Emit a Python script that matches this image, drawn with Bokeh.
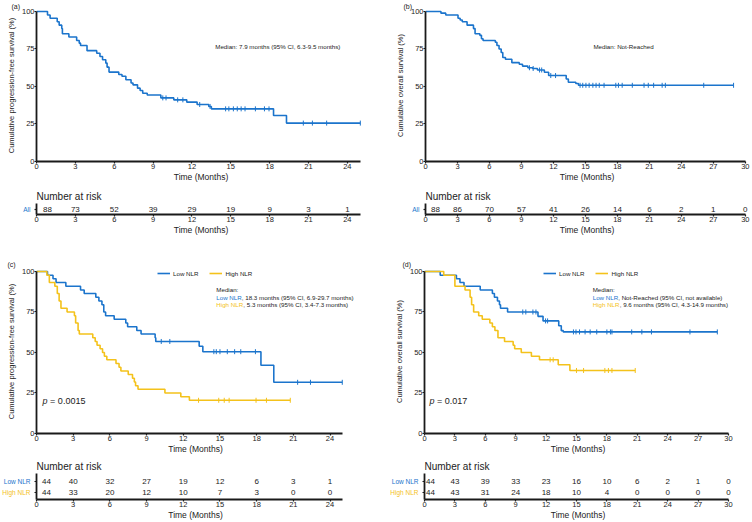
import numpy as np
from bokeh.plotting import figure
from bokeh.layouts import column, row
from bokeh.models import (ColumnDataSource, Label, Legend, LegendItem, Title,
                          FixedTicker, Range1d)
from bokeh.core.properties import value
from bokeh.embed import file_html
from bokeh.resources import INLINE

FONT = "Liberation Sans"
BLUE = "#1B74CC"
YELLOW = "#F4C21B"
AXIS = "#1a1a1a"
TXT = "#222222"

# ---------------- data (months, % surviving) ----------------
# (a) PFS, all patients
a_time = [0, 0.85, 1.05, 1.6, 1.75, 1.95, 2.0, 2.5, 3.1, 3.3, 3.4, 3.9, 4.65, 4.9, 5.1, 5.35, 5.45,
          5.6, 6.35, 6.6, 6.9, 7.3, 7.45, 7.8, 8.0, 8.2, 8.55, 9.6, 10.6, 11.6, 12.4, 13.3, 13.5,
          18.3, 19.3, 25.0]
a_surv = [100, 97.7, 95.5, 93.2, 90.9, 88.6, 85.2, 83.0, 80.7, 78.9, 77.3, 73.9, 72.2, 70.0, 67.8,
          65.6, 62.9, 59.6, 58.0, 56.8, 54.5, 52.3, 51.1, 48.9, 47.3, 45.5, 44.3, 42.4, 41.1, 39.6,
          38.0, 36.7, 35.1, 30.7, 25.6, 25.6]
a_cens = [9.75, 10.0, 10.9, 11.3, 12.6, 13.4, 14.6, 14.85, 15.2, 15.5, 15.8, 16.1, 16.9, 17.6,
          17.95, 20.6, 21.3, 22.4, 25.0]

# (b) OS, all patients
b_time = [0, 1.45, 1.9, 3.05, 3.25, 3.45, 3.9, 4.5, 4.65, 5.1, 5.25, 5.4, 6.55, 6.7, 6.9, 7.1,
          7.25, 7.5, 8.1, 8.8, 9.1, 9.6, 10.05, 10.5, 11.15, 11.55, 13.2, 13.4, 14.1, 14.35, 28.9]
b_surv = [100, 98.9, 97.7, 95.5, 94.3, 93.2, 90.9, 88.6, 85.2, 84.1, 81.8, 80.7, 79.5, 77.3, 75.0,
          72.7, 69.3, 68.2, 65.9, 64.8, 63.6, 62.5, 62.0, 61.0, 59.5, 57.3, 55.0, 52.8, 52.0, 50.8,
          50.8]
b_cens = [9.75, 10.1, 10.7, 10.9, 11.75, 12.2, 14.5, 14.75, 15.05, 15.35, 15.7, 16.0, 16.3,
          16.75, 17.85, 18.1, 18.45, 19.4, 20.5, 20.9, 21.4, 22.2, 22.5, 26.1, 28.9]

# (c) PFS by NLR
c_low_time = [0, 0.9, 1.35, 1.6, 2.4, 3.6, 3.9, 4.85, 5.1, 5.35, 5.5, 5.65, 6.35, 7.3, 7.45,
              8.2, 8.55, 9.7, 9.75, 13.3, 13.6, 18.35, 19.4, 25.0]
c_low_surv = [100, 97.7, 95.5, 93.2, 90.9, 88.6, 86.4, 84.1, 81.8, 79.5, 75.0, 72.7, 70.5, 68.2,
              65.9, 63.6, 61.4, 59.1, 56.8, 53.9, 50.5, 42.1, 31.6, 31.6]
c_low_cens = [10.2, 10.9, 14.5, 14.7, 15.0, 15.6, 16.2, 16.7, 17.9, 21.35, 22.4, 25.0]
c_high_time = [0, 0.85, 1.05, 1.5, 1.7, 1.85, 2.0, 2.5, 3.1, 3.2, 3.4, 3.5, 4.6, 4.8, 4.95, 5.2,
               5.4, 5.55, 5.75, 6.5, 6.75, 6.9, 7.5, 7.85, 8.0, 8.1, 8.3, 10.5, 11.8, 12.5, 20.75]
c_high_surv = [100, 97.7, 93.2, 90.9, 86.4, 81.8, 77.3, 75.0, 72.7, 68.2, 63.6, 61.4, 59.1, 56.8,
               54.5, 52.3, 50.0, 47.7, 45.5, 43.2, 40.9, 38.6, 36.4, 34.1, 31.8, 29.5, 27.3, 25.0,
               22.7, 20.5, 20.5]
c_high_cens = [13.25, 14.9, 15.35, 15.75, 17.95, 18.8, 20.75]

# (d) OS by NLR
d_low_time = [0, 1.55, 3.15, 3.5, 3.9, 5.5, 6.7, 6.9, 7.2, 7.4, 7.5, 8.2, 11.2, 11.7, 13.25,
              13.5, 13.7, 28.9]
d_low_surv = [100, 97.7, 95.5, 93.2, 90.9, 88.6, 86.4, 84.1, 81.8, 79.5, 77.3, 75.0, 72.3, 69.5,
              66.5, 63.5, 62.7, 62.7]
d_low_cens = [9.7, 10.0, 10.7, 11.0, 11.95, 12.15, 14.7, 14.95, 15.3, 15.85, 16.35, 17.0, 18.0,
              18.35, 18.5, 20.45, 21.45, 22.4, 26.2, 28.9]
d_high_time = [0, 1.9, 3.0, 4.0, 4.5, 4.65, 4.85, 5.35, 5.7, 6.45, 6.7, 6.95, 7.25, 7.9, 8.75,
               8.9, 9.55, 10.55, 11.35, 13.2, 14.35, 20.8]
d_high_surv = [100, 97.7, 90.9, 88.6, 84.1, 79.5, 75.0, 72.7, 70.5, 68.2, 65.9, 63.6, 59.1, 56.8,
               54.5, 52.3, 50.0, 47.7, 45.5, 42.4, 38.9, 38.9]
d_high_cens = [12.4, 12.7, 15.0, 15.7, 17.8, 18.15, 18.5, 20.8]

# number at risk
risk_ticks_24 = [0, 3, 6, 9, 12, 15, 18, 21, 24]
risk_ticks_30 = [0, 3, 6, 9, 12, 15, 18, 21, 24, 27, 30]
risk_a_all = [88, 73, 52, 39, 29, 19, 9, 3, 1]
risk_b_all = [88, 86, 70, 57, 41, 26, 14, 6, 2, 1, 0]
risk_c_low = [44, 40, 32, 27, 19, 12, 6, 3, 1]
risk_c_high = [44, 33, 20, 12, 10, 7, 3, 0, 0]
risk_d_low = [44, 43, 39, 33, 23, 16, 10, 6, 2, 1, 0]
risk_d_high = [44, 43, 31, 24, 18, 10, 4, 0, 0, 0, 0]

y_ticks = [0, 25, 50, 75, 100]


# ---------------- helpers ----------------
def surv_at(times, surv, cens):
    idx = np.searchsorted(np.array(times), np.array(cens), side="right") - 1
    return list(np.array(surv)[idx])


def base_fig(w, h, bl, br, bt, bb, xend, yend, **kw):
    p = figure(width=w, height=h, output_backend="svg", toolbar_location=None,
               x_range=Range1d(0, xend), y_range=Range1d(0, yend),
               min_border_left=bl, min_border_right=br, min_border_top=bt,
               min_border_bottom=bb, **kw)
    p.outline_line_color = None
    p.grid.visible = False
    p.background_fill_color = "white"
    p.border_fill_color = "white"
    return p


def style_axis(ax, ticks, bounds, label, label_size="8.5px", tick_size="7.5px",
               label_standoff=0):
    ax.ticker = FixedTicker(ticks=ticks)
    ax.bounds = bounds
    ax.axis_line_width = 1.8
    ax.axis_line_color = AXIS
    ax.major_tick_line_color = AXIS
    ax.major_tick_line_width = 1.2
    ax.major_tick_out = 2
    ax.major_tick_in = 0
    ax.minor_tick_line_color = None
    ax.major_label_text_font = FONT
    ax.major_label_text_font_size = tick_size
    ax.major_label_text_color = TXT
    ax.major_label_standoff = 0
    if label:
        ax.axis_label = label
        ax.axis_label_text_font = FONT
        ax.axis_label_text_font_size = label_size
        ax.axis_label_text_font_style = "normal"
        ax.axis_label_text_color = TXT
        ax.axis_label_standoff = label_standoff


def lab(p, x, y, text, size, color=TXT, style="normal", xoff=0):
    p.add_layout(Label(x=x, y=y, text=text, text_font=FONT, text_font_size=size,
                       text_color=color, text_align="left", text_baseline="middle",
                       text_font_style=style, x_offset=xoff))


def title(p, text, size, offset, standoff):
    p.add_layout(Title(text=text, align="left", offset=offset, standoff=standoff,
                       text_font=FONT, text_font_size=size, text_font_style="normal",
                       text_color=TXT), "above")


def add_curve(p, t, s, cens, color):
    src = ColumnDataSource(dict(t=t, s=s))
    r1 = p.step("t", "s", source=src, mode="after", line_color=color, line_width=1.6)
    csrc = ColumnDataSource(dict(t=cens, s=surv_at(t, s, cens)))
    r2 = p.scatter("t", "s", source=csrc, marker="dash", angle=np.pi / 2, size=5,
                   line_color=color, line_width=1)
    return r1, r2


def km_fig(w, h, bl, br, bt, bb, xmax, xend, yend, xticks, ylabel):
    p = base_fig(w, h, bl, br, bt, bb, xend, yend)
    style_axis(p.xaxis[0], xticks, (0, xmax), "Time (Months)")
    style_axis(p.yaxis[0], y_ticks, (0, 100), ylabel, label_size="7.5px", label_standoff=3)
    return p


def risk_fig(w, h, bl, br, bt, bb, xmax, xend, yend, xticks, rows, offset):
    p = base_fig(w, h, bl, br, bt, bb, xend, yend)
    style_axis(p.xaxis[0], xticks, (0, xmax), "Time (Months)")
    style_axis(p.yaxis[0], [r[0] for r in rows], (0, yend), None)
    p.yaxis[0].major_label_overrides = {r[0]: "" for r in rows}
    for (yrow, _name, _color, counts) in rows:
        src = ColumnDataSource(dict(x=xticks, y=[yrow] * len(xticks),
                                    n=[str(c) for c in counts],
                                    dx=[offset] + [0] * (len(xticks) - 1)))
        p.text("x", "y", text="n", x_offset="dx", source=src, text_font=value(FONT),
               text_font_size="8px", text_color=TXT, text_align="center",
               text_baseline="middle")
    title(p, "Number at risk", "10px", 0, 3)
    return p


def name_fig(w, h, bt, bb, yend, rows):
    p = base_fig(w, h, 0, 0, bt, bb, 1, yend, x_axis_location=None, y_axis_location=None)
    p.x_range = Range1d(0, 1)
    p.text(x=[1] * len(rows), y=[r[0] for r in rows], text=[r[1] for r in rows],
           text_color=[r[2] for r in rows], text_font=value(FONT), text_font_size="6.5px",
           text_align="right", text_baseline="middle", x_offset=-1)
    return p


def add_legend(p, items, x, y):
    leg = Legend(items=[LegendItem(label=n, renderers=list(r)) for n, r in items],
                 orientation="horizontal", location=(x, y), background_fill_alpha=0,
                 border_line_alpha=0, label_text_font=FONT, label_text_font_size="6.2px",
                 label_text_color=TXT, glyph_width=13, glyph_height=8, label_height=8,
                 label_standoff=3, spacing=11, padding=0, margin=0)
    p.add_layout(leg)


# ---------------- panel (a) ----------------
pa = km_fig(376, 185, 36, 11, 9, 24, 25, 25.4, 101.33, risk_ticks_24,
            "Cumulative progression-free survival (%)")
add_curve(pa, a_time, a_surv, a_cens, BLUE)
title(pa, "(a)", "7px", -25, 0)
lab(pa, 13.8, 76.7, "Median: 7.9 months (95% CI, 6.3-9.5 months)", "6.2px")

# ---------------- panel (b) ----------------
pb = km_fig(376, 185, 49, 4, 9, 24, 30, 30.3, 101.33, risk_ticks_30,
            "Cumulative overall survival (%)")
add_curve(pb, b_time, b_surv, b_cens, BLUE)
title(pb, "(b)", "7px", -22, 0)
lab(pb, 15.75, 76.7, "Median: Not-Reached", "6.2px")

# ---------------- risk tables (a), (b) ----------------
rows_a = [(0.45, "All", BLUE, risk_a_all)]
rows_b = [(0.45, "All", BLUE, risk_b_all)]
na = name_fig(31, 55, 18, 26, 1.0, rows_a)
ra = risk_fig(345, 55, 5, 11, 18, 26, 25, 25.4, 1.0, risk_ticks_24, rows_a, 11)
nb = name_fig(44, 55, 18, 26, 1.0, rows_b)
rb = risk_fig(332, 55, 5, 4, 18, 26, 30, 30.3, 1.0, risk_ticks_30, rows_b, 10)

# ---------------- panel (c) ----------------
pc = km_fig(376, 217, 36, 22, 29, 24, 25, 26.0, 101.23, risk_ticks_24,
            "Cumulative progression-free survival (%)")
cl = add_curve(pc, c_low_time, c_low_surv, c_low_cens, BLUE)
ch = add_curve(pc, c_high_time, c_high_surv, c_high_cens, YELLOW)
add_legend(pc, [("Low NLR", cl), ("High NLR", ch)], 121, 156)
title(pc, "(c)", "7px", -29, 3)
lab(pc, 14.7, 88.6, "Median:", "6.2px")
lab(pc, 14.7, 84.0, "Low NLR", "6.2px", color=BLUE)
lab(pc, 14.7, 84.0, ", 18.3 months (95% CI, 6.9-29.7 months)", "6.2px", xoff=25.5)
lab(pc, 14.7, 79.6, "High NLR", "6.2px", color=YELLOW)
lab(pc, 14.7, 79.6, ", 5.3 months (95% CI, 3.4-7.3 months)", "6.2px", xoff=27)
lab(pc, 0.5, 19.8, "p", "9px", style="italic")
lab(pc, 0.5, 19.8, "= 0.0015", "9px", xoff=7.5)

# ---------------- panel (d) ----------------
pd_ = km_fig(376, 217, 48, 21, 29, 24, 30, 30.3, 101.23, risk_ticks_30,
             "Cumulative overall survival (%)")
dl = add_curve(pd_, d_low_time, d_low_surv, d_low_cens, BLUE)
dh = add_curve(pd_, d_high_time, d_high_surv, d_high_cens, YELLOW)
add_legend(pd_, [("Low NLR", dl), ("High NLR", dh)], 119, 156)
title(pd_, "(d)", "7px", -22, 3)
lab(pd_, 16.6, 88.6, "Median:", "6.2px")
lab(pd_, 16.6, 84.0, "Low NLR", "6.2px", color=BLUE)
lab(pd_, 16.6, 84.0, ", Not-Reached (95% CI, not available)", "6.2px", xoff=25.5)
lab(pd_, 16.6, 79.6, "High NLR", "6.2px", color=YELLOW)
lab(pd_, 16.6, 79.6, ", 9.6 months (95% CI, 4.3-14.9 months)", "6.2px", xoff=27)
lab(pd_, 0.5, 19.8, "p", "9px", style="italic")
lab(pd_, 0.5, 19.8, "= 0.017", "9px", xoff=7.5)

# ---------------- risk tables (c), (d) ----------------
rows_c = [(1.6, "Low NLR", BLUE, risk_c_low), (0.6, "High NLR", YELLOW, risk_c_high)]
rows_d = [(1.6, "Low NLR", BLUE, risk_d_low), (0.6, "High NLR", YELLOW, risk_d_high)]
nc = name_fig(31, 65, 16, 22, 2.25, rows_c)
rc = risk_fig(345, 65, 5, 22, 16, 22, 25, 26.0, 2.25, risk_ticks_24, rows_c, 10)
nd = name_fig(43, 65, 16, 22, 2.25, rows_d)
rd = risk_fig(333, 65, 5, 21, 16, 22, 30, 30.3, 2.25, risk_ticks_30, rows_d, 6)

layout = column(row(pa, pb), row(na, ra, nb, rb), row(pc, pd_), row(nc, rc, nd, rd))

open("out.html", "w").write(file_html(layout, INLINE))
